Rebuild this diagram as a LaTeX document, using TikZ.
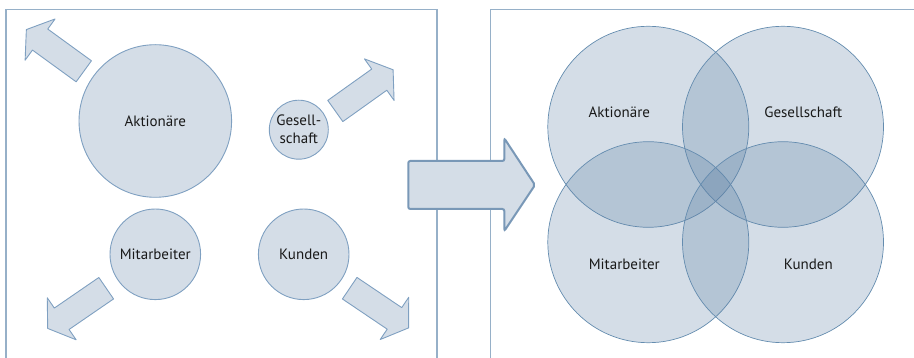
\documentclass[tikz,border=0pt]{standalone}
\usepackage{fontspec}
\setmainfont{PT Sans}
\usepackage{tikz}
\definecolor{circfill}{RGB}{212,221,231}
\definecolor{circline}{RGB}{127,160,193}
\definecolor{vennbase}{RGB}{95,130,165}
\definecolor{vennline}{RGB}{100,140,175}
\definecolor{framecol}{RGB}{150,176,200}
\definecolor{textcol}{RGB}{25,25,25}
\tikzset{
  % Blockpfeil: Schaft entlang der x-Achse, Spitze bei x=71
  pics/blockarrow/.style={code={
    \draw[arrowbody] (0,-13) -- (54,-13) -- (54,-25.5) -- (71,0)
      -- (54,25.5) -- (54,13) -- (0,13) -- cycle;
  }},
}

\begin{document}
\begin{tikzpicture}[
        x=1pt, y=-1pt,
        every node/.append style={font=\fontsize{15}{18}\selectfont, text=textcol},
        stake/.style={circle, draw=circline, line width=0.9pt, fill=circfill, inner sep=0pt, align=center},
        venn/.style={circle, draw=vennline, line width=0.7pt, fill=vennbase, fill opacity=0.27, inner sep=0pt, minimum size=201pt},
        arrowbody/.style={draw=circline, line width=0.9pt, fill=circfill, line join=round},
        bigarrow/.style={draw=circline!95!black, line width=2pt, fill=circfill, rounded corners=2pt},
        frame/.style={draw=framecol, line width=1.2pt}
    ]
        \useasboundingbox (0,0) rectangle (914,358);

        % Rahmen
        \draw[frame] (6,370) -- (6,9.7) -- (437,9.7) -- (437,370);
        \draw[frame] (490.7,370) -- (490.7,9.7) -- (920,9.7);

        % Vorher: getrennte Anspruchsgruppen
        \node[stake, minimum size=152.6pt] (aktL) at (155.3,121) {Aktionäre};
        \node[stake, minimum size=59pt] (gesL) at (298.8,129.7) {Gesell-\\schaft};
        \node[stake, minimum size=90.6pt] (mitL) at (155.3,254.3) {Mitarbeiter};
        \node[stake, minimum size=90.6pt] (kunL) at (303.7,254.3) {Kunden};

        \pic[rotate=144] at (83.8,71.3) {blockarrow};
        \pic[rotate=35.5] at (335.3,111) {blockarrow};
        \pic[rotate=-145.5] at (106.2,288.2) {blockarrow};
        \pic[rotate=-34] at (349.7,288.2) {blockarrow};

        % Übergang
        \draw[bigarrow] (408.3,161) -- (504.3,161) -- (504.3,138.3) -- (535,185)
            -- (504.3,231) -- (504.3,209) -- (408.3,209) -- cycle;

        % Nachher: überlappende Interessen
        \node[venn] (aktR) at (648.3,126.8) {};
        \node[venn] (gesR) at (783,126.8) {};
        \node[venn] (mitR) at (648.3,242.2) {};
        \node[venn] (kunR) at (783,242.2) {};

        \node (aktT) at (619.3,112.7) {Aktionäre};
        \node (gesT) at (803.3,112.7) {Gesellschaft};
        \node (mitT) at (624.3,264) {Mitarbeiter};
        \node (kunT) at (808.3,264) {Kunden};
    \end{tikzpicture}
\end{document}
